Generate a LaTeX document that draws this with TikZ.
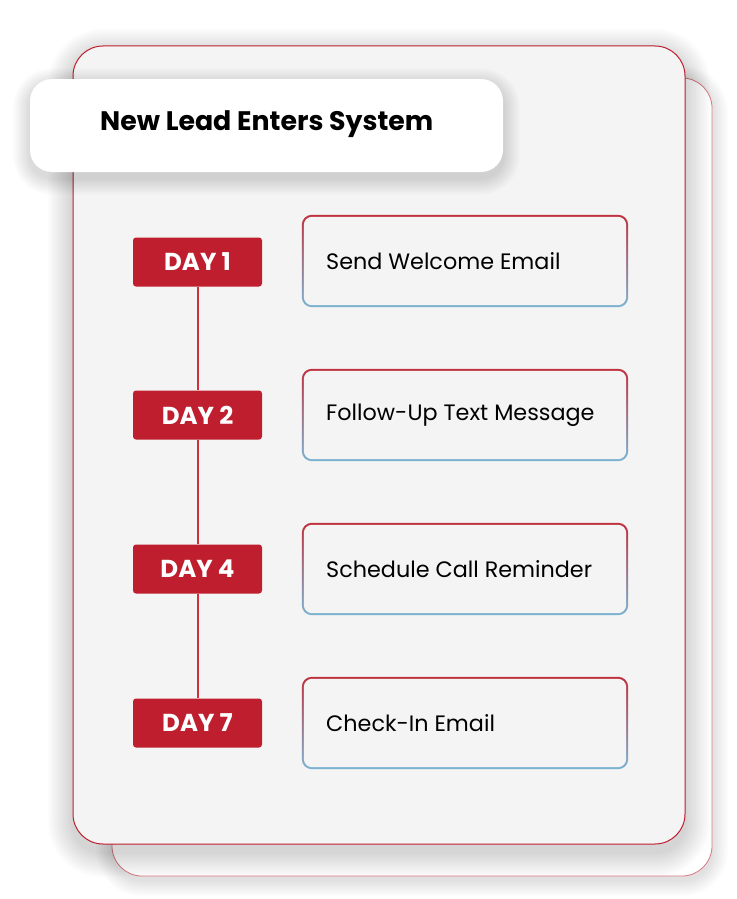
\documentclass[tikz,border=0pt]{standalone}
\usepackage{fontspec}
\setmainfont{Poppins}
\definecolor{brandred}{HTML}{BE1E2D}
\definecolor{cardgray}{HTML}{F4F4F4}
\definecolor{edgeblue}{HTML}{7AB4D4}
\definecolor{edgered}{HTML}{C0313F}
\definecolor{linered}{HTML}{D0303E}
\tikzset{
  daybox/.style={fill=brandred, rounded corners=3pt, minimum width=129pt, minimum height=49pt,
    inner sep=0pt, text=white, font=\fontsize{24.5}{26}\selectfont\bfseries},
  actbox/.style={minimum width=326pt, minimum height=92pt, inner sep=0pt},
  acttext/.style={anchor=west, inner sep=0pt, font=\fontsize{22.3}{26}\selectfont, text=black},
  timeline/.style={fill=linered, draw=none},
  softshadow/.style={fill=black, opacity=#1},
}
% #1 x0, #2 y0, #3 x1, #4 y1, #5 radius, #6 yoff, #7 steps, #8 step size
\newcommand{\mkshadow}[8]{%
  \foreach \i in {1,...,#7}{
    \fill[softshadow=0.010, rounded corners={#5+\i*#8}]
      ({#1-\i*#8},{#2-\i*#8+#6}) rectangle ({#3+\i*#8},{#4+\i*#8+#6});
  }%
}
\newcommand{\actframe}[1]{%
  \shade[top color=edgered, bottom color=edgeblue, rounded corners=10pt]
    (#1.north west) rectangle (#1.south east);
  \fill[cardgray, rounded corners=8.3pt]
    ([xshift=2pt,yshift=-2pt]#1.north west) rectangle ([xshift=-2pt,yshift=2pt]#1.south east);
}
\begin{document}
\begin{tikzpicture}[x=1pt,y=-1pt]
\useasboundingbox (0,0) rectangle (736,899);
\fill[white] (0,0) rectangle (736,899);
% back card
\mkshadow{112}{78}{712}{876}{30}{4}{10}{1.6}
\draw[draw=brandred!60, fill=white, line width=0.8pt, rounded corners=30pt]
  (112,78) rectangle (712,876);
% main card
\mkshadow{73}{46}{685}{844}{30}{8}{14}{1.8}
\draw[draw=brandred, fill=cardgray, line width=1pt, rounded corners=30pt]
  (73,46) rectangle (685,844);
% title
\mkshadow{30}{79}{503}{172}{22}{6}{12}{1.4}
\node[fill=white, rounded corners=22pt, minimum width=473pt, minimum height=93pt, inner sep=0pt]
  (title) at (266.5,125.5) {};
\node[inner sep=0pt, font=\fontsize{26.8}{30}\selectfont\bfseries, anchor=west] (titletext) at (100,124) {New Lead Enters System};
% days
\node[daybox] (d1) at (197.5,262) {DAY 1};
\node[daybox] (d2) at (197.5,415) {DAY 2};
\node[daybox] (d4) at (197.5,569) {DAY 4};
\node[daybox] (d7) at (197.5,723) {DAY 7};
\fill[timeline] ([xshift=-1pt]d1.south) rectangle ([xshift=1pt]d2.north);
\fill[timeline] ([xshift=-1pt]d2.south) rectangle ([xshift=1pt]d4.north);
\fill[timeline] ([xshift=-1pt]d4.south) rectangle ([xshift=1pt]d7.north);
% actions
\node[actbox] (a1) at (465,261) {};
\node[actbox] (a2) at (465,415) {};
\node[actbox] (a4) at (465,569) {};
\node[actbox] (a7) at (465,723) {};
\actframe{a1}
\actframe{a2}
\actframe{a4}
\actframe{a7}
\node[acttext] (t1) at (326,261) {Send Welcome Email};
\node[acttext] (t2) at (326,415) {Follow-Up Text Message};
\node[acttext] (t4) at (326,569) {Schedule Call Reminder};
\node[acttext] (t7) at (326,723) {Check-In Email};
\end{tikzpicture}
\end{document}
